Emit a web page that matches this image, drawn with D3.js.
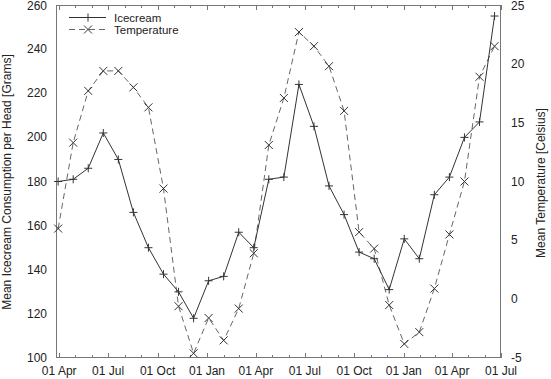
<!DOCTYPE html>
<html><head><meta charset="utf-8">
<script src="https://cdn.jsdelivr.net/npm/d3@7"></script>
<style>
body{margin:0;background:#fff;}
text{font-family:"Liberation Sans",Arial,Helvetica,sans-serif;font-size:12px;fill:#222;}
</style></head>
<body><svg id="c" width="551" height="379"></svg>
<script>
const dates = ["1951-03-30","1951-04-27","1951-05-25","1951-06-22","1951-07-20","1951-08-17","1951-09-14","1951-10-12","1951-11-09","1951-12-07","1952-01-04","1952-02-01","1952-02-29","1952-03-28","1952-04-25","1952-05-23","1952-06-20","1952-07-18","1952-08-15","1952-09-12","1952-10-10","1952-11-07","1952-12-05","1953-01-02","1953-01-30","1953-02-27","1953-03-27","1953-04-24","1953-05-22","1953-06-19"];
const icecream = [180,181,186,202,190,166,150,138,130,118,135,137,157,150,181,182,224,205,178,165,148,145,131,154,145,174,182,200,207,255];
const temperature = [6,13.3,17.7,19.4,19.4,18,16.3,9.4,-0.6,-4.6,-1.6,-3.5,-0.8,3.9,13.1,17.1,22.7,21.5,19.8,16,5.7,4.3,-0.5,-3.8,-2.8,0.9,5.5,10,18.9,21.5];
const leftTicks = [100,120,140,160,180,200,220,240,260];
const rightTicks = [-5,0,5,10,15,20,25];
const seriesNames = ["Icecream","Temperature"];

const svg = d3.select("#c");
const L=56, R=501, T=5, B=358;
const parse = d3.timeParse("%Y-%m-%d");
const xd = dates.map(parse);
const x = d3.scaleTime().domain([parse("1951-03-26"), parse("1953-07-01")]).range([L,R]);
const yL = d3.scaleLinear().domain([100,260]).range([B,T]);
const yR = d3.scaleLinear().domain([-5,25]).range([B,T]);

const frameColor="#777";
svg.append("rect").attr("x",L+0.5).attr("y",T+0.5).attr("width",R-L-1).attr("height",B-T-1)
  .attr("fill","none").attr("stroke",frameColor).attr("stroke-width",1);

const months = d3.timeMonth.range(d3.timeMonth.ceil(x.domain()[0]), d3.timeDay.offset(x.domain()[1],1));
const g = svg.append("g");
months.forEach(m=>{
  const major = [0,3,6,9].includes(m.getMonth());
  const len = major?5:3;
  const px = Math.round(x(m))+0.5;
  g.append("line").attr("x1",px).attr("x2",px).attr("y1",B).attr("y2",B-len).attr("stroke",frameColor);
  g.append("line").attr("x1",px).attr("x2",px).attr("y1",T).attr("y2",T+len).attr("stroke",frameColor);
  if(major){
    g.append("text").attr("x",x(m)).attr("y",375).attr("text-anchor","middle").text(d3.timeFormat("%d %b")(m));
  }
});
leftTicks.forEach(v=>{
  svg.append("text").attr("x",47).attr("y",Math.max(yL(v)+4,9.5)).attr("text-anchor","end").text(v);
});
rightTicks.forEach(v=>{
  svg.append("text").attr("x",511).attr("y",Math.max(yR(v)+4,9.5)).attr("text-anchor","start").text(v);
});
svg.append("text").attr("transform","translate(10.5,182) rotate(-90)").attr("text-anchor","middle")
  .text("Mean Icecream Consumption per Head [Grams]");
svg.append("text").attr("transform","translate(545,183) rotate(-90)").attr("text-anchor","middle")
  .text("Mean Temperature [Celsius]");

const lineI = d3.line().x((d,i)=>x(xd[i])).y(d=>yL(d));
const lineT = d3.line().x((d,i)=>x(xd[i])).y(d=>yR(d));
svg.append("path").attr("d",lineT(temperature)).attr("fill","none").attr("stroke","#666").attr("stroke-width",1).attr("stroke-dasharray","6,4");
svg.append("path").attr("d",lineI(icecream)).attr("fill","none").attr("stroke","#333").attr("stroke-width",1);

function plus(sel,cx,cy,s){ sel.append("path").attr("d",`M${cx-s},${cy}H${cx+s}M${cx},${cy-s}V${cy+s}`).attr("stroke","#333").attr("fill","none"); }
function cross(sel,cx,cy,s){ sel.append("path").attr("d",`M${cx-s},${cy-s}L${cx+s},${cy+s}M${cx-s},${cy+s}L${cx+s},${cy-s}`).attr("stroke","#333").attr("fill","none"); }
icecream.forEach((v,i)=>plus(svg,x(xd[i]),yL(v),4));
temperature.forEach((v,i)=>cross(svg,x(xd[i]),yR(v),4));

svg.append("line").attr("x1",69).attr("x2",106).attr("y1",17.5).attr("y2",17.5).attr("stroke","#333");
plus(svg,88,17.5,4);
svg.append("text").attr("x",114).attr("y",21.5).style("font-size","11.5px").text(seriesNames[0]);
svg.append("line").attr("x1",69).attr("x2",106).attr("y1",29.5).attr("y2",29.5).attr("stroke","#666").attr("stroke-dasharray","6,4");
cross(svg,88,29.5,4);
svg.append("text").attr("x",114).attr("y",33.5).style("font-size","11.5px").text(seriesNames[1]);
</script></body></html>
